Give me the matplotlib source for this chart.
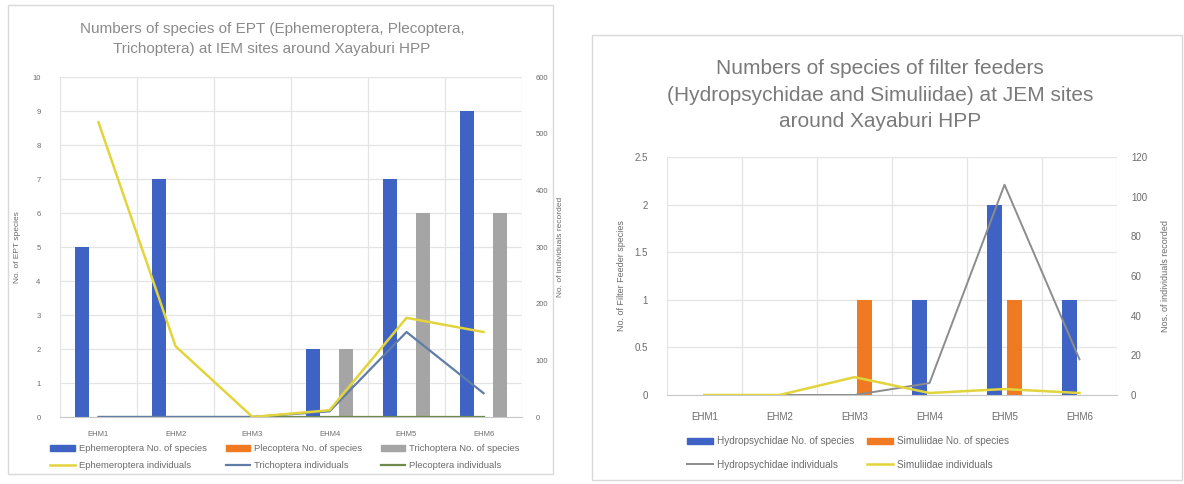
import matplotlib
matplotlib.use("Agg")
import matplotlib.pyplot as plt
import numpy as np
from matplotlib.patches import Rectangle, Patch
from matplotlib.lines import Line2D

plt.rcParams['font.family'] = ['Liberation Sans', 'DejaVu Sans']

# ---- data: EPT chart ----
sites = ["EHM1", "EHM2", "EHM3", "EHM4", "EHM5", "EHM6"]
ephem_species = [5, 7, 0, 2, 7, 9]
pleco_species = [0, 0, 0, 0, 0, 0]
tricho_species = [0, 0, 0, 2, 6, 6]
ephem_indiv = [520, 125, 0, 12, 175, 150]
tricho_indiv = [0, 0, 0, 10, 150, 42]
pleco_indiv = [0, 0, 0, 0, 0, 0]

# ---- data: filter feeder chart ----
hydro_species = [0, 0, 0, 1, 2, 1]
simu_species = [0, 0, 1, 0, 1, 0]
hydro_indiv = [0, 0, 0, 6, 106, 18]
simu_indiv = [0, 0, 9, 1, 3, 1]

BLUE = "#3e63c4"
ORANGE = "#ef7a22"
GRAY = "#a5a5a5"
YELLOW = "#e2d43c"
LBLUE = "#5f7da6"
DGREEN = "#6f8a4a"
TXT = "#6b6b6b"
GRID = "#e4e4e4"

W, H = 1184, 484
fig = plt.figure(figsize=(W / 100, H / 100), dpi=100)
fig.patch.set_facecolor("white")


def fx(px):
    return px / W


def fy(py):
    return 1 - py / H


# panel frames
fig.patches.append(Rectangle((fx(8), fy(474)), fx(545), 469 / H, transform=fig.transFigure,
                             facecolor="none", edgecolor="#d9d9d9", lw=1.0, zorder=-1))
fig.patches.append(Rectangle((fx(592), fy(480)), fx(590), 445 / H, transform=fig.transFigure,
                             facecolor="none", edgecolor="#d9d9d9", lw=1.0, zorder=-1))


def style_axes(ax, ax2, ymax, ystep, y2max, y2step, fs, xpad):
    n = len(sites)
    ax.set_xlim(-0.5, n - 0.5)
    ax.set_ylim(0, ymax)
    ax2.set_ylim(0, y2max)
    ax.set_yticks(np.arange(0, ymax + ystep / 2, ystep))
    ax2.set_yticks(np.arange(0, y2max + y2step / 2, y2step))
    ax.set_xticks(range(n))
    ax.set_xticklabels(sites)
    for a in (ax, ax2):
        a.patch.set_visible(False)
        for s in a.spines.values():
            s.set_visible(False)
        a.tick_params(length=0, labelsize=fs, colors=TXT)
    ax.spines["bottom"].set_visible(True)
    ax.spines["bottom"].set_color("#c8c8c8")
    ax.yaxis.grid(True, color=GRID, lw=0.9)
    ax.set_axisbelow(True)
    for b in np.arange(-0.5, n, 1.0):
        ax.axvline(b, color=GRID, lw=0.9, zorder=0)
    ax.tick_params(axis="y", pad=14)
    ax2.tick_params(axis="y", pad=10)
    ax.tick_params(axis="x", pad=xpad)


# ---------------- left chart ----------------
axL = fig.add_axes([fx(60), fy(417), fx(462), 340 / H])
axL2 = axL.twinx()
x = np.arange(len(sites))
bw = 0.18
axL.bar(x - 0.215, ephem_species, bw, color=BLUE, zorder=2)
axL.bar(x, pleco_species, bw, color=ORANGE, zorder=2)
axL.bar(x + 0.215, tricho_species, bw, color=GRAY, zorder=2)
axL2.plot(x, pleco_indiv, color=DGREEN, lw=1.6, zorder=3)
axL2.plot(x, tricho_indiv, color=LBLUE, lw=1.6, zorder=3)
axL2.plot(x, ephem_indiv, color=YELLOW, lw=1.8, zorder=4)
style_axes(axL, axL2, 10, 1, 600, 100, 5.5, 10)
axL.set_ylabel("No. of EPT species", fontsize=6, color=TXT, labelpad=8)
axL2.set_ylabel("No. of individuals recorded", fontsize=6, color=TXT, labelpad=6)
fig.text(fx(272), fy(39), "Numbers of species of EPT (Ephemeroptera, Plecoptera,\nTrichoptera) at IEM sites around Xayaburi HPP",
         ha="center", va="center", fontsize=11, color="#8a8a8a", linespacing=1.6)

handlesL = [Patch(color=BLUE), Line2D([], [], color=YELLOW, lw=1.8),
            Patch(color=ORANGE), Line2D([], [], color=LBLUE, lw=1.6),
            Patch(color=GRAY), Line2D([], [], color=DGREEN, lw=1.6)]
labelsL = ["Ephemeroptera No. of species", "Ephemeroptera individuals",
           "Plecoptera No. of species", "Trichoptera individuals",
           "Trichoptera No. of species", "Plecoptera individuals"]
fig.legend(handlesL, labelsL, ncol=3, loc="center", bbox_to_anchor=(fx(285), fy(457)),
           frameon=False, fontsize=6.8, labelcolor=TXT, handlelength=2.6, handleheight=0.5,
           columnspacing=2.0, handletextpad=0.4, labelspacing=0.75)

# ---------------- right chart ----------------
axR = fig.add_axes([fx(667), fy(395), fx(450), 238 / H])
axR2 = axR.twinx()
bw2 = 0.2
axR.bar(x - 0.135, hydro_species, bw2, color=BLUE, zorder=2)
axR.bar(x + 0.135, simu_species, bw2, color=ORANGE, zorder=2)
axR2.plot(x, hydro_indiv, color="#8c8c8c", lw=1.4, zorder=3)
axR2.plot(x, simu_indiv, color=YELLOW, lw=1.8, zorder=4)
style_axes(axR, axR2, 2.5, 0.5, 120, 20, 7, 12)
axR.set_yticklabels(["0", "0.5", "1", "1.5", "2", "2.5"])
axR.set_ylabel("No. of Filter Feeder species", fontsize=6.5, color=TXT, labelpad=6)
axR2.set_ylabel("Nos. of individuals recorded", fontsize=6.5, color=TXT, labelpad=10)
fig.text(fx(880), fy(95), "Numbers of species of filter feeders\n(Hydropsychidae and Simuliidae) at JEM sites\naround Xayaburi HPP",
         ha="center", va="center", fontsize=15, color="#7a7a7a", linespacing=1.5)

handlesR = [Patch(color=BLUE), Line2D([], [], color="#8c8c8c", lw=1.4),
            Patch(color=ORANGE), Line2D([], [], color=YELLOW, lw=1.8)]
labelsR = ["Hydropsychidae No. of species", "Hydropsychidae individuals",
           "Simuliidae No. of species", "Simuliidae individuals"]
fig.legend(handlesR, labelsR, ncol=2, loc="center", bbox_to_anchor=(fx(848), fy(453)),
           frameon=False, fontsize=7.2, labelcolor=TXT, handlelength=2.6, handleheight=0.5,
           columnspacing=1.2, handletextpad=0.4, labelspacing=1.3)

fig.savefig("out.png", dpi=100)
